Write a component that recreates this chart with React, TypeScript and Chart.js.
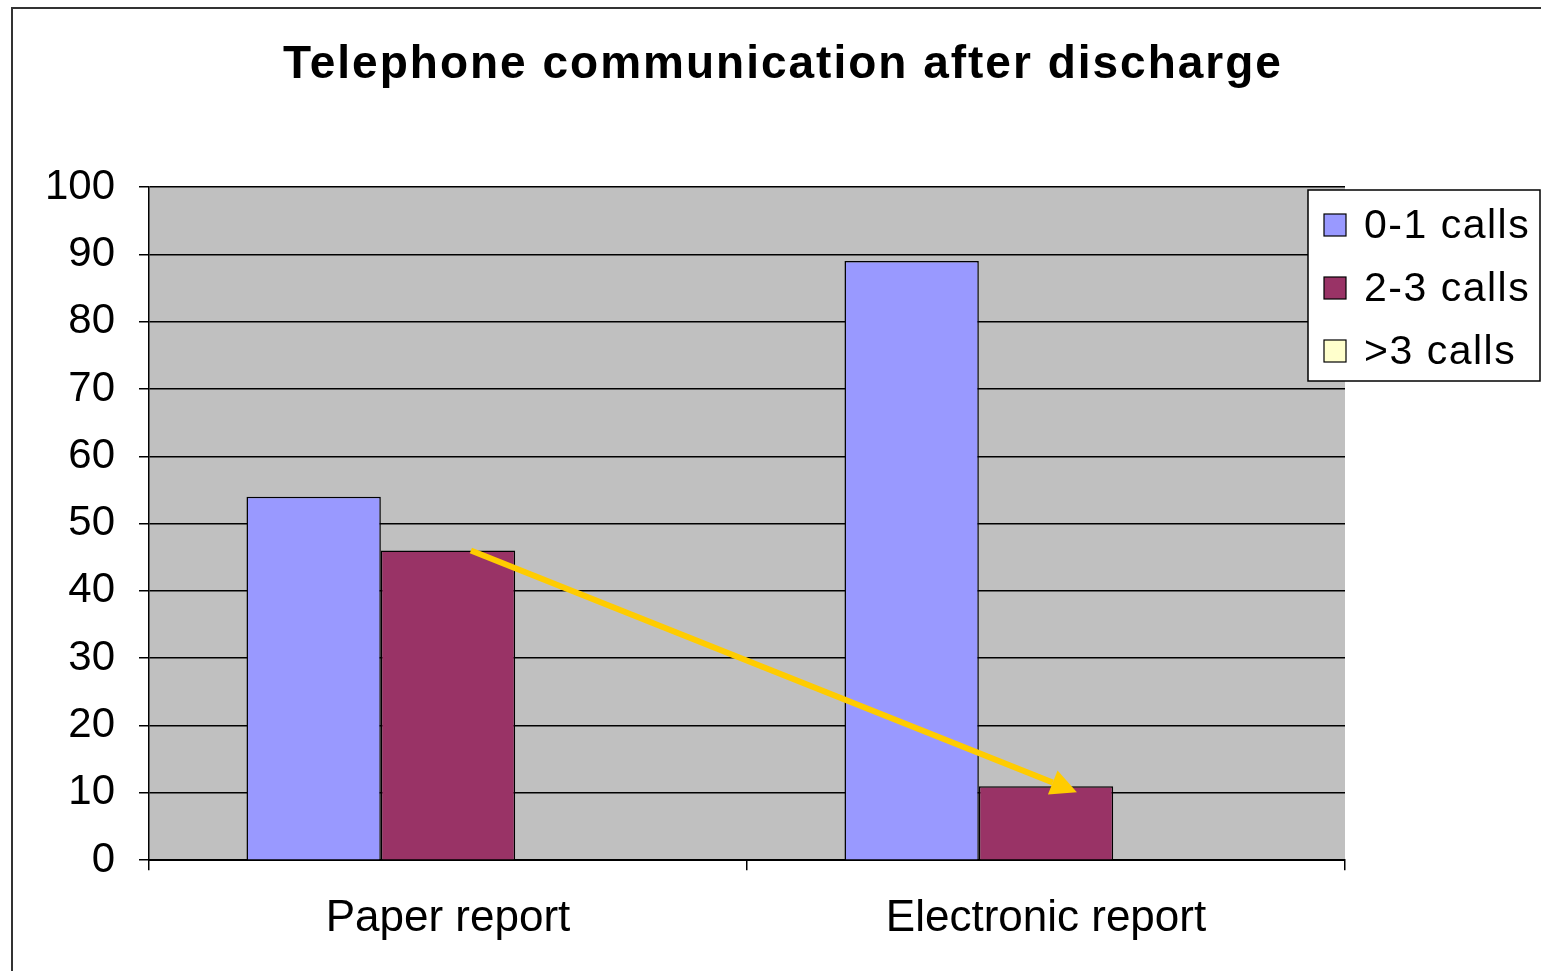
import React, { useEffect, useRef } from "react";
import { Chart, registerables } from "chart.js";

Chart.register(...registerables);

const TITLE = "Telephone communication after discharge";
const categories = ["Paper report", "Electronic report"];
const seriesLabels = ["0-1 calls", "2-3 calls", ">3 calls"];
const calls01 = [54, 89];
const calls23 = [46, 11];
const calls3plus = [0, 0];
const seriesColors = ["#9999FF", "#993366", "#FFFFCC"];
const yTicks = [0, 10, 20, 30, 40, 50, 60, 70, 80, 90, 100];

const FONT = "'Liberation Sans', Arial, sans-serif";

const plotBg = {
  id: "plotBg",
  beforeDraw(chart: any) {
    const { ctx, chartArea } = chart;
    ctx.save();
    ctx.fillStyle = "#C0C0C0";
    ctx.fillRect(chartArea.left, chartArea.top, chartArea.right - chartArea.left, chartArea.bottom - chartArea.top);
    ctx.restore();
  },
};

const titlePlugin = {
  id: "customTitle",
  afterDraw(chart: any) {
    const { ctx } = chart;
    ctx.save();
    ctx.font = `bold 46px ${FONT}`;
    (ctx as any).letterSpacing = "2px";
    ctx.fillStyle = "#000000";
    ctx.textAlign = "center";
    ctx.textBaseline = "middle";
    ctx.fillText(TITLE, 783, 65);
    ctx.restore();
  },
};

const arrowPlugin = {
  id: "arrow",
  afterDatasetsDraw(chart: any) {
    const meta = chart.getDatasetMeta(1);
    const b0 = meta.data[0];
    const b1 = meta.data[1];
    if (!b0 || !b1) return;
    const x0 = b0.x + 0.17 * b0.width;
    const y0 = b0.y;
    const x1 = b1.x + 0.23 * b1.width;
    const y1 = b1.y + 6;
    const { ctx } = chart;
    const ang = Math.atan2(y1 - y0, x1 - x0);
    const headLen = 26;
    const headW = 13;
    const bx = x1 - headLen * Math.cos(ang);
    const by = y1 - headLen * Math.sin(ang);
    ctx.save();
    ctx.strokeStyle = "#FFCC00";
    ctx.fillStyle = "#FFCC00";
    ctx.lineWidth = 6;
    ctx.beginPath();
    ctx.moveTo(x0, y0);
    ctx.lineTo(bx, by);
    ctx.stroke();
    ctx.beginPath();
    ctx.moveTo(x1, y1);
    ctx.lineTo(bx + headW * Math.sin(ang), by - headW * Math.cos(ang));
    ctx.lineTo(bx - headW * Math.sin(ang), by + headW * Math.cos(ang));
    ctx.closePath();
    ctx.fill();
    ctx.restore();
  },
};

const legendPlugin = {
  id: "customLegend",
  afterDraw(chart: any) {
    const { ctx } = chart;
    const left = 1308;
    const top = 190;
    const w = 232;
    const h = 191;
    ctx.save();
    ctx.fillStyle = "#FFFFFF";
    ctx.fillRect(left, top, w, h);
    ctx.strokeStyle = "#000000";
    ctx.lineWidth = 1.5;
    ctx.strokeRect(left, top, w, h);
    ctx.font = `41px ${FONT}`;
    (ctx as any).letterSpacing = "1.5px";
    ctx.textBaseline = "middle";
    ctx.textAlign = "left";
    chart.data.datasets.forEach((ds: any, i: number) => {
      const cy = top + 35 + i * 63;
      ctx.fillStyle = ds.backgroundColor;
      ctx.fillRect(left + 16, cy - 11, 22, 22);
      ctx.strokeStyle = "#000000";
      ctx.lineWidth = 1.2;
      ctx.strokeRect(left + 16, cy - 11, 22, 22);
      ctx.fillStyle = "#000000";
      ctx.fillText(ds.label, left + 56, cy + 2);
    });
    ctx.restore();
  },
};

export default function App() {
  const ref = useRef<HTMLCanvasElement>(null);
  useEffect(() => {
    document.body.style.margin = "0";
    const chart = new Chart(ref.current!, {
      type: "bar",
      data: {
        labels: categories,
        datasets: [
          { label: seriesLabels[0], data: calls01, backgroundColor: seriesColors[0] },
          { label: seriesLabels[1], data: calls23, backgroundColor: seriesColors[1] },
          { label: seriesLabels[2], data: calls3plus, backgroundColor: seriesColors[2] },
        ].map((d) => ({ ...d, borderColor: "#000000", borderWidth: 1.5, categoryPercentage: 0.674, barPercentage: 1 })),
      },
      options: {
        animation: false,
        responsive: false,
        maintainAspectRatio: false,
        layout: { padding: { left: 0, right: 196, top: 187, bottom: 4 } },
        plugins: {
          legend: { display: false },
          tooltip: { enabled: false },
          title: { display: false },
        },
        scales: {
          x: {
            grid: { display: true, drawOnChartArea: false, offset: true, color: "#000000", lineWidth: 1.5, tickLength: 10 },
            border: { display: true, color: "#000000", width: 2 },
            ticks: { color: "#000000", font: { family: FONT, size: 44, lineHeight: 1.2 }, padding: 22 },
          },
          y: {
            min: 0,
            max: 100,
            afterFit: (s: any) => { s.width = 149; },
            afterBuildTicks: (s: any) => { s.ticks = yTicks.map((v) => ({ value: v })); },
            grid: { color: "#000000", lineWidth: 1.5, tickLength: 10 },
            border: { display: true, color: "#000000", width: 1.5 },
            ticks: { color: "#000000", font: { family: FONT, size: 42 }, padding: 24 },
          },
        },
      },
      plugins: [plotBg, arrowPlugin, legendPlugin, titlePlugin],
    });
    return () => chart.destroy();
  }, []);
  return (
    <div style={{ position: "relative", width: 1541, height: 971, background: "#FFFFFF" }}>
      <canvas ref={ref} width={1541} height={971} style={{ display: "block" }} />
      <div style={{ position: "absolute", left: 11, top: 7, width: 1541, height: 971, borderLeft: "2px solid #333", borderTop: "2px solid #333", pointerEvents: "none" }} />
    </div>
  );
}
